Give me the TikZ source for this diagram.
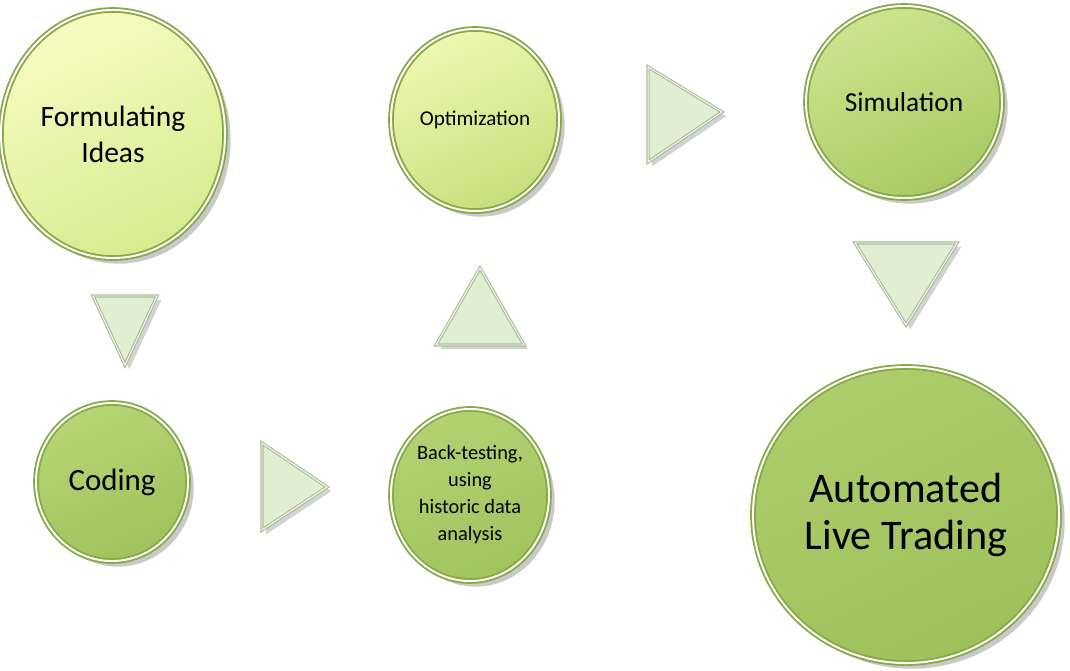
\documentclass[tikz,border=0pt]{standalone}
\usepackage{fontspec}
\setmainfont{Carlito}
\usetikzlibrary{shapes.geometric,shadows}
\definecolor{rim}{HTML}{86A944}
\definecolor{trifill}{HTML}{E0EFD3}
\definecolor{triedge}{HTML}{A9BE98}
\definecolor{fA}{HTML}{F7FBC2}\definecolor{fB}{HTML}{D5EC8E}
\definecolor{oA}{HTML}{EEF8B0}\definecolor{oB}{HTML}{C6DF7C}
\definecolor{sA}{HTML}{CBE58C}\definecolor{sB}{HTML}{A8C965}
\definecolor{cA}{HTML}{B6D575}\definecolor{cB}{HTML}{9FC35C}
\definecolor{bA}{HTML}{B2D272}\definecolor{bB}{HTML}{A0C45E}
\definecolor{aA}{HTML}{ADCD6C}\definecolor{aB}{HTML}{9EC15B}
\begin{document}
\begin{tikzpicture}[x=0.025cm,y=-0.025cm,
  bubble/.style 2 args={ellipse, inner sep=0pt, align=center, text=black,
    draw=rim, line width=1.3pt, double=white, double distance=1.4pt,
    drop shadow={shadow xshift=4pt, shadow yshift=-4pt, opacity=0.3, fill=black!70},
    top color=#1, bottom color=#2, shading angle=25},
  arrowtri/.style={fill=trifill, draw=triedge, line width=0.8pt,
    double=white!70!trifill, double distance=0.7pt, line join=miter,
    drop shadow={shadow xshift=3pt, shadow yshift=-3pt, opacity=0.25, fill=black!70}}]
\useasboundingbox (0,0) rectangle (1070,670);

% arrows (triangles)
\path[arrowtri] (93,296) -- (157,296) -- (125,365) -- cycle;
\path[arrowtri] (262,443) -- (327,487) -- (262,530) -- cycle;
\path[arrowtri] (480,268) -- (524,345) -- (436,345) -- cycle;
\path[arrowtri] (648,67) -- (722,112) -- (648,162) -- cycle;
\path[arrowtri] (855,243) -- (957,243) -- (906,325) -- cycle;

% bubbles
\node[bubble={fA}{fB}, minimum width=5.6cm, minimum height=6.2cm,
  font=\fontsize{21}{25.5}\selectfont]
  (ideas) at (113,134) {Formulating\\ Ideas};
\node[bubble={oA}{oB}, minimum width=4.2cm, minimum height=4.55cm,
  font=\fontsize{15}{18}\selectfont]
  (opt) at (475,120) {Optimization};
\node[bubble={sA}{sB}, minimum width=4.9cm, minimum height=4.8cm,
  font=\fontsize{19.5}{22}\selectfont]
  (sim) at (904,102) {Simulation};
\node[bubble={cA}{cB}, minimum width=3.8cm, minimum height=3.95cm,
  font=\fontsize{22}{26}\selectfont]
  (coding) at (112,482) {Coding};
\node[bubble={bA}{bB}, minimum width=3.95cm, minimum height=4.3cm,
  font=\fontsize{14.5}{19.2}\selectfont]
  (backtest) at (470,495) {Back-testing,\\ using\\ historic data\\ analysis};
\node[bubble={aA}{aB}, minimum width=7.65cm, minimum height=7.4cm,
  font=\fontsize{30}{33.5}\selectfont]
  (live) at (906,515) {Automated\\ Live Trading};
\end{tikzpicture}
\end{document}
